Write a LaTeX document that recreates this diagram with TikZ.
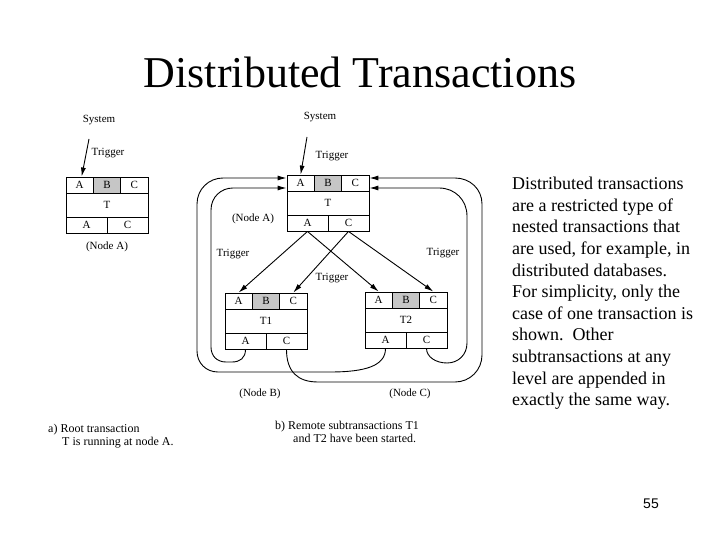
\documentclass[tikz,border=0pt]{standalone}
\usepackage{fontspec}
\setmainfont{Liberation Serif}
\newfontfamily\slidesans{Liberation Sans}
\usetikzlibrary{arrows.meta}
\begin{document}
\begin{tikzpicture}[x=1pt,y=-1pt,
    cell/.style={draw,line width=0.9pt,inner sep=0pt,minimum width=27.33pt,minimum height=16pt,font=\fontsize{11}{12}\selectfont},
    wide/.style={cell,minimum width=82pt,minimum height=24pt},
    half/.style={cell,minimum width=41pt},
    shade/.style={fill=gray!45},
    lab/.style={font=\fontsize{11}{12}\selectfont},
    arr/.style={-{Latex[length=9pt,width=5pt]},line width=0.9pt}]
    \path[use as bounding box,fill=white] (0,0) rectangle (720,540);
    \node[anchor=base,font=\fontsize{44}{48}\selectfont] (title) at (360,88) {Distributed Transactions};
    % a) root transaction at node A
    \path (79.67,185)node[cell] (aA){A} (107,185)node[cell,shade] (aB){B} (134.33,185)node[cell] (aC){C}
    (107,205)node[wide] (aT){T}
    (86.5,225)node[half] (aSA){A} (127.5,225)node[half] (aSC){C};
    \node[lab] (aSys) at (99,120) {System};
    \node[lab] (aTrig) at (108,153) {Trigger};
    \node[lab] (aNode) at (107,247) {(Node A)};
    \coordinate (aS) at (89,139);
    \draw[arr] (aS) -- ([xshift=2pt]aA.north);
    % b) remote subtransactions
    \path (300.67,183)node[cell] (tA){A} (328,183)node[cell,shade] (tB){B} (355.33,183)node[cell] (tC){C}
    (328,203)node[wide] (tT){T}
    (307.5,223)node[half] (tSA){A} (348.5,223)node[half] (tSC){C};
    \path (238.67,301)node[cell] (pA){A} (266,301)node[cell,shade] (pB){B} (293.33,301)node[cell] (pC){C}
    (266,321)node[wide] (pT){T1}
    (245.5,341)node[half] (pSA){A} (286.5,341)node[half] (pSC){C};
    \path (378.67,300)node[cell] (qA){A} (406,300)node[cell,shade] (qB){B} (433.33,300)node[cell] (qC){C}
    (406,320)node[wide] (qT){T2}
    (385.5,340)node[half] (qSA){A} (426.5,340)node[half] (qSC){C};
    \node[lab] (tSys) at (320,117) {System};
    \node[lab] (tTrig) at (332,156) {Trigger};
    \node[lab] (tNode) at (253,219) {(Node A)};
    \node[lab] (lTrig) at (233,254) {Trigger};
    \node[lab] (rTrig) at (443,253) {Trigger};
    \node[lab] (mTrig) at (332,278) {Trigger};
    \node[lab] (pNode) at (260,394) {(Node B)};
    \node[lab] (qNode) at (410,394) {(Node C)};
    \coordinate (tS) at (307,137);
    \draw[arr] (tS) -- (tA.north);
    \draw[arr] (tSA.south) -- (pA.north);
    \draw[arr] (tSA.south) -- (qA.north);
    \draw[arr] (tSC.south) -- (pC.north);
    \draw[arr] (tSC.south) -- (qC.north);
    % loops back to the root
    \draw[arr] (qSA.south) .. controls (385.5,366) and (365,372) .. (330,372) -- (218,372)
      .. controls (206,372) and (197,363) .. (197,351) -- (197,204)
      .. controls (197,189) and (209,178) .. (223,178) -- ([yshift=5pt]tA.west);
    \draw[arr] (pSA.south) .. controls (245.5,358) and (240,362) .. (232,362) -- (226,362)
      .. controls (217,362) and (211,356) .. (211,347) -- (211,210)
      .. controls (211,197) and (221,188) .. (233,188) -- ([yshift=-5pt]tA.west);
    \draw[arr] (pSC.south) .. controls (286.5,372) and (298,382) .. (318,382) -- (455,382)
      .. controls (470,382) and (482,370) .. (482,355) -- (482,204)
      .. controls (482,189) and (470,178) .. (455,178) -- ([yshift=5pt]tC.east);
    \draw[arr] (qSC.south) .. controls (426.5,357) and (436,363) .. (447,363)
      .. controls (458,363) and (467,355) .. (467,343) -- (467,216)
      .. controls (467,200) and (455,188) .. (439,188) -- ([yshift=-5pt]tC.east);
    % captions
    \node[anchor=north west,align=left,inner sep=0pt,font=\fontsize{12}{12.5}\selectfont] (aCap) at (48,424)
      {a) Root transaction\\\hspace*{14pt}T is running at node A.};
    \node[anchor=north west,align=left,inner sep=0pt,font=\fontsize{12}{12.5}\selectfont] (bCap) at (275,421)
      {b) Remote subtransactions T1\\\hspace*{18pt}and T2 have been started.};
    \node[anchor=north west,align=left,inner sep=0pt,font=\fontsize{18}{21.6}\selectfont] (desc) at (512,177)
      {Distributed transactions\\are a restricted type of\\nested transactions that\\are used, for example, in\\distributed databases.\\For simplicity, only the\\case of one transaction is\\shown.\ \ Other\\subtransactions at any\\level are appended in\\exactly the same way.};
    \node[font=\slidesans\fontsize{14}{16}\selectfont] (page) at (651,504) {55};
\end{tikzpicture}
\end{document}
